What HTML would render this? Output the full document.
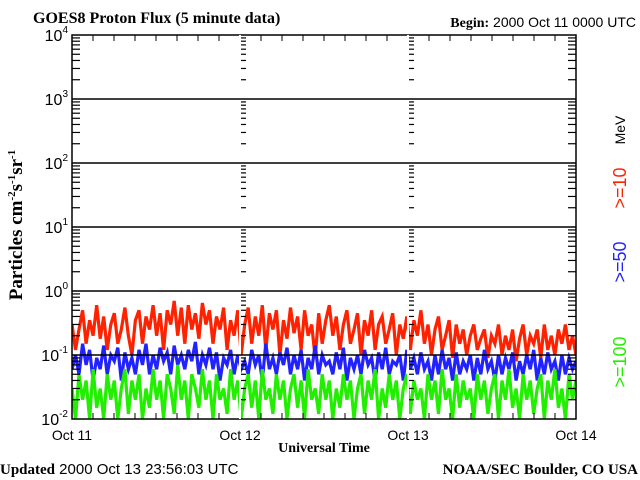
<!DOCTYPE html>
<html><head><meta charset="utf-8"><style>
body{margin:0;background:#fff;width:640px;height:480px;overflow:hidden}
svg{display:block}
.s{font-family:"Liberation Sans",sans-serif}
.b{font-family:"Liberation Serif",serif;font-weight:bold}
</style></head><body>
<svg id="c" width="640" height="480" xmlns="http://www.w3.org/2000/svg">
<text x="33" y="23" class="b" font-size="16">GOES8 Proton Flux (5 minute data)</text>
<text x="636" y="27" text-anchor="end" font-size="14"><tspan class="b">Begin:</tspan><tspan class="s"> 2000 Oct 11 0000 UTC</tspan></text>
<text x="0" y="474" font-size="15"><tspan class="b">Updated</tspan><tspan class="s"> 2000 Oct 13 23:56:03 UTC</tspan></text>
<text x="638" y="474" text-anchor="end" class="b" font-size="15">NOAA/SEC Boulder, CO USA</text>
<text x="324" y="452" text-anchor="middle" class="b" font-size="14">Universal Time</text>
<text transform="translate(22,225) rotate(-90)" text-anchor="middle" class="b" font-size="19">Particles cm<tspan font-size="11" dy="-7">-2</tspan><tspan dy="7">s</tspan><tspan font-size="11" dy="-7">-1</tspan><tspan dy="7">sr</tspan><tspan font-size="11" dy="-7">-1</tspan></text>
<text transform="translate(625,130) rotate(-90)" text-anchor="middle" class="s" font-size="14" fill="#000">MeV</text>
<text transform="translate(626,188) rotate(-90)" text-anchor="middle" class="s" font-size="18" fill="#ff2200">&gt;=10</text>
<text transform="translate(626,262) rotate(-90)" text-anchor="middle" class="s" font-size="18" fill="#2222ff">&gt;=50</text>
<text transform="translate(626,362) rotate(-90)" text-anchor="middle" class="s" font-size="18" fill="#22ee00">&gt;=100</text>
<defs><clipPath id="pc"><rect x="72" y="35" width="504" height="384"/></clipPath></defs>
<g id="series" clip-path="url(#pc)"></g>
<g id="axes"></g>
</svg>
<script>
const dayLabels=["Oct 11","Oct 12","Oct 13","Oct 14"];
const yExponents=[-2,-1,0,1,2,3,4];
const red=[0.3,0.12,0.25,0.5,0.15,0.35,0.2,0.6,0.18,0.4,0.12,0.3,0.45,0.15,0.25,0.55,0.2,0.1,0.35,0.5,0.15,0.4,0.25,0.6,0.2,0.45,0.12,0.5,0.3,0.7,0.2,0.55,0.15,0.6,0.25,0.45,0.18,0.65,0.3,0.5,0.15,0.4,0.25,0.55,0.12,0.35,0.2,0.5,0.1,0.3,
0.55,0.15,0.4,0.2,0.6,0.12,0.45,0.25,0.5,0.1,0.35,0.18,0.55,0.22,0.4,0.12,0.5,0.2,0.3,0.09,0.45,0.15,0.35,0.6,0.2,0.4,0.12,0.3,0.5,0.15,
0.25,0.45,0.1,0.35,0.2,0.5,0.12,0.3,0.4,0.15,0.25,0.45,0.1,0.3,0.18,0.4,0.12,0.35,0.2,0.5,
0.15,0.3,0.1,0.25,0.4,0.12,0.2,0.35,0.09,0.3,0.15,0.25,0.1,0.2,0.3,0.12,0.18,0.25,0.09,0.2,
0.15,0.3,0.1,0.2,0.12,0.25,0.08,0.18,0.3,0.1,0.2,0.15,0.25,0.09,0.3,0.12,0.2,0.1,0.25,0.15,0.3,0.12,0.2,0.1];
const blue=[0.06,0.1,0.05,0.15,0.07,0.12,0.04,0.09,0.06,0.14,0.05,0.1,0.08,0.13,0.04,0.11,0.06,0.09,0.05,0.12,
0.07,0.15,0.05,0.1,0.06,0.13,0.08,0.11,0.05,0.14,0.07,0.1,0.06,0.12,0.08,0.16,0.05,0.1,0.07,0.13,
0.06,0.11,0.04,0.09,0.07,0.12,0.05,0.1,0.06,0.08,0.05,0.12,0.07,0.1,0.04,0.15,0.06,0.09,0.05,0.11,
0.07,0.13,0.05,0.1,0.06,0.12,0.04,0.09,0.06,0.14,0.05,0.1,0.07,0.08,0.05,0.11,0.06,0.13,0.04,0.09,
0.06,0.1,0.05,0.12,0.07,0.09,0.04,0.11,0.06,0.13,0.05,0.08,0.07,0.1,0.04,0.12,0.06,0.09,0.05,0.11,
0.06,0.08,0.04,0.1,0.05,0.12,0.06,0.09,0.04,0.11,0.05,0.08,0.06,0.1,0.04,0.09,0.05,0.12,0.06,0.08,
0.04,0.1,0.05,0.09,0.06,0.11,0.04,0.08,0.05,0.1,0.06,0.12,0.04,0.09,0.05,0.11,0.06,0.08,0.04,0.1,0.05,0.09,0.06,0.08];
const green=[0.03,0.01,0.05,0.02,0.04,0.01,0.06,0.015,0.03,0.01,0.05,0.02,0.04,0.01,0.03,0.06,0.012,0.04,0.02,0.05,
0.01,0.03,0.015,0.06,0.02,0.04,0.01,0.05,0.03,0.012,0.07,0.02,0.04,0.01,0.05,0.03,0.015,0.06,0.02,0.04,
0.01,0.05,0.02,0.03,0.012,0.06,0.02,0.04,0.01,0.03,0.05,0.015,0.04,0.01,0.06,0.02,0.03,0.012,0.05,0.02,
0.04,0.01,0.03,0.05,0.015,0.04,0.01,0.06,0.02,0.03,0.012,0.05,0.02,0.04,0.01,0.03,0.015,0.05,0.02,0.04,
0.01,0.03,0.05,0.012,0.04,0.02,0.06,0.01,0.03,0.015,0.05,0.02,0.04,0.01,0.03,0.05,0.012,0.04,0.02,0.03,
0.01,0.05,0.02,0.04,0.012,0.06,0.02,0.03,0.01,0.05,0.015,0.04,0.02,0.03,0.01,0.05,0.02,0.04,0.012,0.03,
0.05,0.01,0.04,0.02,0.06,0.015,0.03,0.01,0.05,0.02,0.04,0.012,0.03,0.05,0.01,0.04,0.02,0.06,0.015,0.03,0.01,0.05,0.02,0.04];

const NS="http://www.w3.org/2000/svg";
const X0=72,X1=576,Y0=35,Y1=419;
function xScale(frac){return X0+frac*(X1-X0);}
function yScale(v){return Y1-(Math.log10(v)+2)/6*(Y1-Y0);}
function mk(tag,attrs,parent){const e=document.createElementNS(NS,tag);for(const k in attrs)e.setAttribute(k,attrs[k]);parent.appendChild(e);return e;}
const ser=document.getElementById('series'),ax=document.getElementById('axes');

function drawSeries(arr,color,name){
  const n=arr.length;let pts=[];
  arr.forEach((v,i)=>{pts.push(xScale(i/(n-1)).toFixed(1)+","+yScale(v).toFixed(1));});
  const p=mk('polyline',{points:pts.join(' '),fill:'none',stroke:color,'stroke-width':3.2,'stroke-linejoin':'miter'},ser);
  
  
}
drawSeries(red,'#ff2200','series-10mev');
drawSeries(blue,'#2222ff','series-50mev');
drawSeries(green,'#22ee00','series-100mev');

const fr=mk('rect',{x:X0,y:Y0,width:X1-X0,height:Y1-Y0,fill:'none',stroke:'#000','stroke-width':1.5},ax);


dayLabels.forEach((d,i)=>{
  const x=xScale(i/3);
  if(i>0&&i<3){const l=mk('line',{x1:x,x2:x,y1:Y0,y2:Y1,stroke:'#fff','stroke-width':2},ax);
    
    }
  const t=mk('text',{x:x,y:440,'text-anchor':'middle','font-size':14,class:'s'},ax);
  t.textContent=d;
  
  
});
yExponents.forEach(e=>{
  const y=yScale(Math.pow(10,e));
  if(e>-2&&e<4){const l=mk('line',{x1:X0,x2:X1,y1:y,y2:y,stroke:'#000','stroke-width':1.5},ax);
    
    }
  const t=mk('text',{x:X0-4,y:y+6,'text-anchor':'end','font-size':16,class:'s'},ax);
  
  
  t.innerHTML='10<tspan font-size="10" dy="-8">'+e+'</tspan>';
  if(e<4){for(let m=2;m<=9;m++){const yy=yScale(m*Math.pow(10,e));
    [[X0,X0+8],[X1-8,X1],[xScale(1/3)+1,xScale(1/3)+6],[xScale(2/3)+1,xScale(2/3)+6]].forEach(s=>{
      mk('line',{x1:s[0],x2:s[1],y1:yy,y2:yy,stroke:'#000','stroke-width':1.2},ax);});}}
});
for(let h=1;h<24;h++){if(h%8===0)continue;const x=xScale(h/24);
  mk('line',{x1:x,x2:x,y1:Y1,y2:Y1-6,stroke:'#000','stroke-width':1},ax);
  mk('line',{x1:x,x2:x,y1:Y0,y2:Y0+6,stroke:'#000','stroke-width':1},ax);}
</script>
</body></html>
